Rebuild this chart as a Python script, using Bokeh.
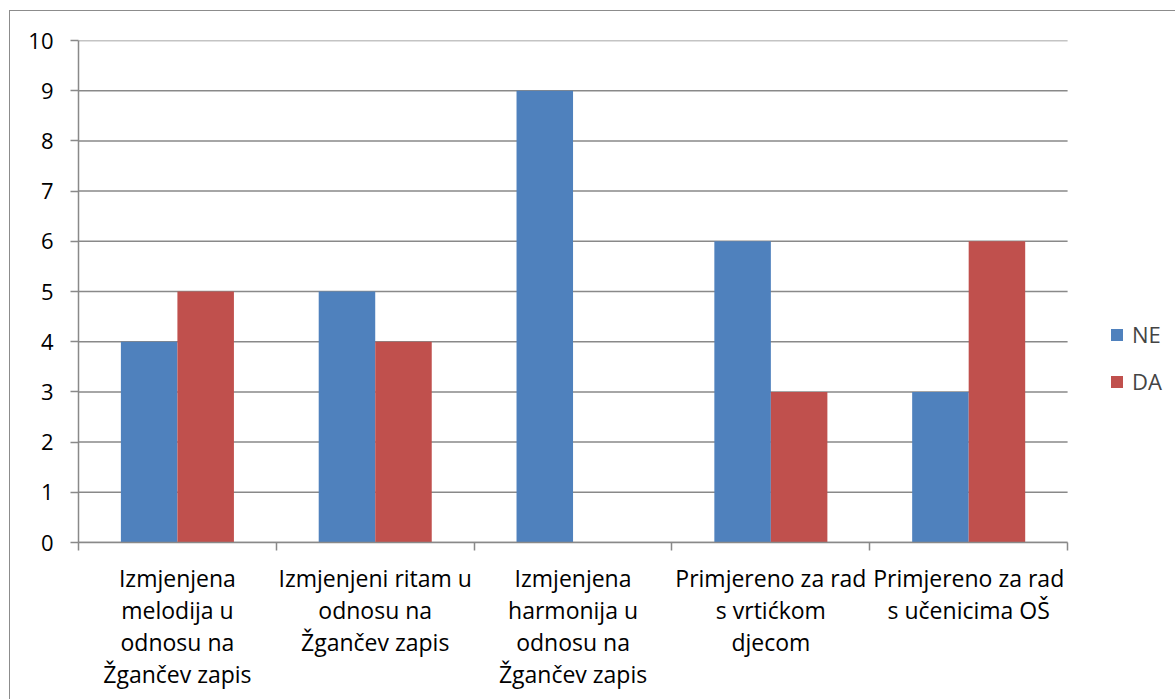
from bokeh.plotting import figure
from bokeh.models import ColumnDataSource, Legend, LegendItem, FixedTicker
from bokeh.transform import dodge
from bokeh.embed import file_html
from bokeh.resources import INLINE

# category labels, wrapped as in the reference
categories = [
    "Izmjenjena\nmelodija u\nodnosu na\nŽgančev zapis",
    "Izmjenjeni ritam u\nodnosu na\nŽgančev zapis",
    "Izmjenjena\nharmonija u\nodnosu na\nŽgančev zapis",
    "Primjereno za rad\ns vrtićkom\ndjecom",
    "Primjereno za rad\ns učenicima OŠ",
]
series_names = ["NE", "DA"]
ne_values = [4, 5, 9, 6, 3]
da_values = [5, 4, 0, 3, 6]
colors = ["#4F81BD", "#C0504D"]
y_ticks = [0, 1, 2, 3, 4, 5, 6, 7, 8, 9, 10]

FONT = "Open Sans"
GRID = "#898989"

n = len(categories)
centers = [i + 0.5 for i in range(n)]
bounds_ticks = [float(i) for i in range(n + 1)]

source = ColumnDataSource(dict(x=centers, NE=ne_values, DA=da_values))

p = figure(
    x_range=(0, 5.5),
    y_range=(0, 10),
    width=1166, height=689,
    output_backend="svg", toolbar_location=None,
    min_border_left=68, min_border_right=10, min_border_top=29, min_border_bottom=158,
)
p.styles = {"border-left": "1px solid #8c8c8c", "border-top": "1px solid #8c8c8c",
            "margin-left": "9px", "margin-top": "10px"}
p.outline_line_color = None
p.background_fill_color = "white"
p.border_fill_color = "white"
p.xgrid.grid_line_color = None
p.ygrid.grid_line_color = None

# horizontal gridlines over the category span only
p.segment(x0=0, x1=n, y0=y_ticks, y1=y_ticks, line_color=GRID, line_width=1.5)

bw = 0.2857
r_ne = p.vbar(x=dodge("x", -bw / 2), top="NE", width=bw, source=source,
              color=colors[0], line_color=None)
r_da = p.vbar(x=dodge("x", bw / 2), top="DA", width=bw, source=source,
              color=colors[1], line_color=None)

# y axis
p.yaxis.ticker = FixedTicker(ticks=y_ticks, minor_ticks=[])
p.yaxis.major_tick_out = 8
p.yaxis.major_tick_in = 0
p.yaxis.axis_line_color = GRID
p.yaxis.axis_line_width = 1.5
p.yaxis.major_tick_line_color = GRID
p.yaxis.major_tick_line_width = 1.5
p.yaxis.major_label_text_font = FONT
p.yaxis.major_label_text_font_size = "22px"
p.yaxis.major_label_text_color = "black"
p.yaxis.major_label_standoff = 17

# x axis: labels at category centres, tick marks at category boundaries
p.xaxis.ticker = FixedTicker(ticks=centers, minor_ticks=bounds_ticks)
p.xaxis.bounds = (0, n)
p.xaxis.major_label_overrides = {c: lab for c, lab in zip(centers, categories)}
p.xaxis.axis_line_color = GRID
p.xaxis.axis_line_width = 1.5
p.xaxis.major_tick_line_color = None
p.xaxis.major_tick_out = 0
p.xaxis.major_tick_in = 0
p.xaxis.minor_tick_line_color = GRID
p.xaxis.minor_tick_line_width = 1.5
p.xaxis.minor_tick_out = 8
p.xaxis.minor_tick_in = 0
p.xaxis.major_label_text_font = FONT
p.xaxis.major_label_text_font_size = "23px"
p.xaxis.major_label_text_color = "black"
p.xaxis.major_label_text_line_height = 1.0
p.xaxis.major_label_standoff = 11
p.xaxis.major_label_orientation = "horizontal"

legend = Legend(
    items=[LegendItem(label=series_names[0], renderers=[r_ne]),
           LegendItem(label=series_names[1], renderers=[r_da])],
    location=(1031, 146),
    orientation="vertical",
    glyph_width=15, glyph_height=15,
    label_text_font=FONT, label_text_font_size="22px",
    label_standoff=8, spacing=17,
    border_line_color=None, background_fill_alpha=0,
    padding=0, margin=0,
)
p.add_layout(legend, "center")

open("out.html", "w").write(file_html(p, INLINE))
